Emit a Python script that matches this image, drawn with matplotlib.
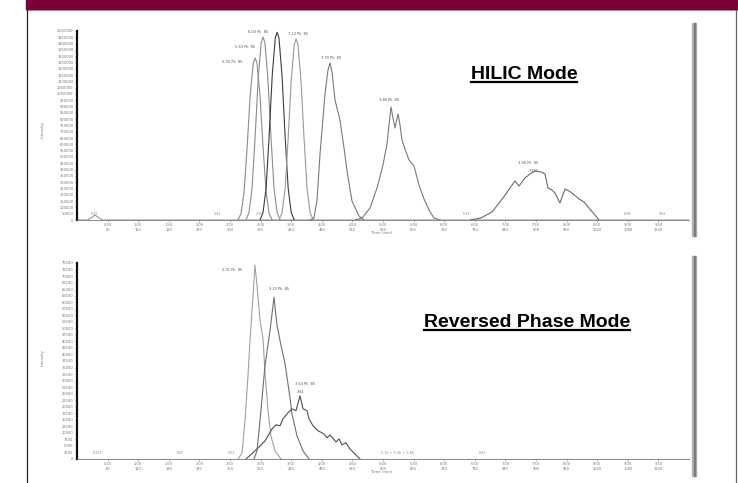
import matplotlib
matplotlib.use("Agg")
import matplotlib.pyplot as plt
from matplotlib.patches import Rectangle
from matplotlib.lines import Line2D

W, H = 738, 483

# ---- HILIC overlay (time in min, intensity in counts) ----
hilic_base_t = [0.0, 0.18, 0.25, 0.29, 0.34, 0.41, 10.0]
hilic_base_i = [0, 0, 23800, 39700, 23800, 0, 0]

hilic_a_t = [2.63, 2.68, 2.73, 2.78, 2.83, 2.88, 2.91, 2.94, 2.99, 3.04, 3.09, 3.14, 3.19]
hilic_a_i = [0, 51e3, 219e3, 579e3, 990e3, 1247e3, 1286e3, 1247e3, 990e3, 579e3, 219e3, 51e3, 0]

hilic_b_t = [2.76, 2.81, 2.86, 2.91, 2.96, 3.01, 3.04, 3.07, 3.12, 3.17, 3.22, 3.27, 3.32]
hilic_b_i = [0, 58e3, 247e3, 653e3, 1118e3, 1408e3, 1452e3, 1408e3, 1118e3, 653e3, 247e3, 58e3, 0]

hilic_c_t = [2.99, 3.04, 3.09, 3.14, 3.19, 3.24, 3.27, 3.30, 3.35, 3.40, 3.45, 3.50, 3.55]
hilic_c_i = [0, 60e3, 253e3, 670e3, 1147e3, 1445e3, 1490e3, 1445e3, 1147e3, 670e3, 253e3, 60e3, 0]

hilic_d_t = [3.30, 3.35, 3.40, 3.45, 3.50, 3.55, 3.58, 3.61, 3.66, 3.71, 3.76, 3.81, 3.86]
hilic_d_i = [0, 57e3, 244e3, 647e3, 1106e3, 1394e3, 1437e3, 1394e3, 1106e3, 647e3, 244e3, 57e3, 0]

hilic_e_t = [3.807, 3.873, 3.922, 3.971, 4.020, 4.052, 4.101, 4.134, 4.167, 4.216,
             4.297, 4.363, 4.412, 4.493, 4.608, 4.690]
hilic_e_i = [0, 15.9e3, 158.7e3, 523.8e3, 809.6e3, 1000.1e3, 1190.6e3, 1246.1e3, 1174.7e3, 952.4e3,
             793.7e3, 571.5e3, 388.9e3, 150.8e3, 31.7e3, 0]

hilic_f_t = [4.542, 4.657, 4.788, 4.902, 5.000, 5.065, 5.098, 5.131, 5.163, 5.196, 5.245,
             5.278, 5.310, 5.359, 5.425, 5.507, 5.588, 5.670, 5.752, 5.833, 5.931]
hilic_f_i = [0, 15.9e3, 95.2e3, 254.0e3, 436.5e3, 603.2e3, 754.0e3, 896.9e3, 809.6e3, 730.2e3, 841.3e3,
             754.0e3, 634.9e3, 563.5e3, 476.2e3, 428.6e3, 277.8e3, 166.7e3, 79.4e3, 15.9e3, 0]

hilic_g_t = [6.422, 6.601, 6.781, 6.961, 7.075, 7.157, 7.222, 7.320, 7.402, 7.484, 7.582, 7.647,
             7.696, 7.761, 7.810, 7.892, 7.974, 8.039, 8.088, 8.203, 8.284, 8.366, 8.448, 8.529]
hilic_g_i = [0, 15.9e3, 63.5e3, 174.6e3, 254.0e3, 309.5e3, 269.8e3, 333.4e3, 365.1e3, 388.9e3, 381.0e3, 365.1e3,
             254.0e3, 238.1e3, 214.3e3, 134.9e3, 246.0e3, 230.2e3, 214.3e3, 166.7e3, 142.9e3, 95.2e3, 47.6e3, 0]

hilic_traces = [(hilic_base_t, hilic_base_i), (hilic_a_t, hilic_a_i), (hilic_b_t, hilic_b_i),
                (hilic_c_t, hilic_c_i), (hilic_d_t, hilic_d_i), (hilic_e_t, hilic_e_i),
                (hilic_f_t, hilic_f_i), (hilic_g_t, hilic_g_i)]
hilic_colors = ['#9a9a9a', '#8c8c8c', '#8c8c8c', '#3c3c3c', '#9a9a9a', '#7a7a7a', '#7a7a7a', '#6a6a6a']

hilic_peak_text = ['5.05 Pk  85', '5.63 Pk  85', '6.03 Pk  85', '7.13 Pk  85',
                   '7.70 Pk  85', '3.86 Pk  85', '3.90 Pk  85']
hilic_peak_t = [2.908, 3.039, 3.268, 3.578, 4.134, 5.131, 7.484]
hilic_peak_i = [1286e3, 1452e3, 1490e3, 1437e3, 1246e3, 896.9e3, 388.9e3]

hilic_small_text = ['0.25', '2.42', '2.99', '6.21', '8.98', '9.55']
hilic_small_t = [0.29, 2.30, 2.99, 6.36, 8.99, 9.56]

# ---- Reversed phase overlay ----
rp_base_t = [0.0, 10.0]
rp_base_i = [0, 0]

rp_a_t = [2.631, 2.696, 2.745, 2.794, 2.827, 2.876, 2.908, 2.941, 2.990, 3.039, 3.072, 3.121, 3.170, 3.235, 3.333]
rp_a_i = [0, 2.3e3, 14.6e3, 31.9e3, 45.4e3, 62.7e3, 74.2e3, 66.5e3, 53.1e3, 46.1e3, 33.1e3, 18.5e3, 8.8e3, 3.1e3, 0]

rp_b_t = [2.892, 2.941, 2.990, 3.072, 3.154, 3.219, 3.268, 3.333, 3.399, 3.480, 3.513, 3.595, 3.693, 3.791]
rp_b_i = [0, 3.1e3, 14.6e3, 35.8e3, 49.2e3, 61.9e3, 51.2e3, 43.5e3, 36.5e3, 23.5e3, 17.3e3, 8.8e3, 3.1e3, 0]

rp_c_t = [2.761, 2.908, 3.072, 3.186, 3.252, 3.317, 3.366, 3.448, 3.513, 3.578, 3.644, 3.693, 3.758,
          3.791, 3.856, 3.938, 4.036, 4.085, 4.134, 4.232, 4.281, 4.330, 4.395, 4.461, 4.526, 4.624]
rp_c_i = [0, 3.1e3, 6.9e3, 11.5e3, 13.1e3, 12.7e3, 15.4e3, 17.7e3, 19.2e3, 18.5e3, 24.2e3, 19.2e3, 18.5e3,
          15.4e3, 12.7e3, 10.8e3, 9.6e3, 8.1e3, 9.2e3, 6.5e3, 7.7e3, 5.4e3, 6.2e3, 3.8e3, 2.3e3, 0]

rp_traces = [(rp_base_t, rp_base_i), (rp_a_t, rp_a_i), (rp_b_t, rp_b_i), (rp_c_t, rp_c_i)]
rp_colors = ['#8c8c8c', '#a0a0a0', '#707070', '#505050']

rp_peak_text = ['2.91 Pk  85', '3.22 Pk  85', '3.64 Pk  85']
rp_peak_t = [2.908, 3.219, 3.644]
rp_peak_i = [74.2e3, 61.9e3, 24.2e3]

rp_small_text = ['0.227', '1.68', '2.52', '5.22 + 5.36 + 5.48', '6.62']
rp_small_t = [0.33, 1.68, 2.52, 5.23, 6.62]

x_ticks = [0.5 * k for k in range(1, 20)]
x_tick_labels = ['%.2f\n%d' % (t, round(t * 120)) for t in x_ticks]


def px_box(x0, y0, x1, y1):
    return [x0 / W, 1 - y1 / H, (x1 - x0) / W, (y1 - y0) / H]


fig = plt.figure(figsize=(W / 100, H / 100), dpi=100)
fig.patch.set_facecolor('white')

# slide frame
fig.patches.append(Rectangle((26 / W, 1 - 9 / H), (W - 26) / W, 9 / H,
                             transform=fig.transFigure, color='#7a0039', zorder=5))
fig.lines.append(Line2D([26 / W, 1], [1 - 10 / H] * 2, transform=fig.transFigure,
                        color='#b8a8b0', lw=0.8))
fig.lines.append(Line2D([26.5 / W] * 2, [0, 1 - 9 / H], transform=fig.transFigure,
                        color='#222222', lw=0.9))
fig.lines.append(Line2D([735.5 / W] * 2, [0, 1 - 9 / H], transform=fig.transFigure,
                        color='#666666', lw=0.9))


def draw_panel(box, traces, colors, ymax, ystep, peak_text, peak_t, peak_i, offsets,
               small_text, small_t, ylab_y, bar):
    ax = fig.add_axes(px_box(*box))
    for (t, i), c in zip(traces, colors):
        ax.plot(t, i, color=c, lw=0.8)
    ax.set_xlim(0, 10)
    ax.set_ylim(0, ymax)
    ax.set_xticks(x_ticks)
    ax.set_xticklabels(x_tick_labels)
    yt = [ystep * k for k in range(int(round(ymax / ystep)) + 1)]
    ax.set_yticks(yt)
    ax.set_yticklabels(['%d' % v for v in yt])
    ax.tick_params(labelsize=2.6, labelcolor='#777777', color='#777777',
                   length=1.5, width=0.4, pad=1)
    for s in ['top', 'right']:
        ax.spines[s].set_visible(False)
    ax.spines['left'].set_linewidth(1.6)
    ax.spines['left'].set_color('#111111')
    ax.spines['bottom'].set_linewidth(0.6)
    ax.spines['bottom'].set_color('#777777')
    ax.patch.set_alpha(0)
    # offsets are given in pixels, right / down positive
    for txt, t, i, (dx, dy) in zip(peak_text, peak_t, peak_i, offsets):
        ax.annotate(txt, (t, i), xytext=(dx * 0.72, -dy * 0.72), textcoords='offset points',
                    fontsize=2.6, color='#555555', ha='center', va='center')
    for txt, t in zip(small_text, small_t):
        ax.annotate(txt, (t, 0), xytext=(0, 6 * 0.72), textcoords='offset points',
                    fontsize=2.4, color='#888888', ha='center', va='center')
    fig.text(43 / W, 1 - ylab_y / H, 'Intensity', rotation=90, fontsize=2.8,
             color='#777777', ha='center', va='center')
    fig.text(382 / W, 1 - (box[3] + 13) / H, 'Time (min)', fontsize=2.8,
             color='#777777', ha='center', va='center')
    # gray scroll bar on the right
    fig.patches.append(Rectangle((692 / W, 1 - bar[1] / H), 4 / W, (bar[1] - bar[0]) / H,
                                 transform=fig.transFigure, color='#b4b4b4', zorder=3))
    fig.patches.append(Rectangle((693.5 / W, 1 - bar[1] / H), 1.2 / W, (bar[1] - bar[0]) / H,
                                 transform=fig.transFigure, color='#7c7c7c', zorder=3))
    return ax


hilic_offsets = [(-23, 4), (-18, 10), (-19, 0), (2, -5), (1, -5), (-2, -7), (-7, -8)]
rp_offsets = [(-23, 5), (5, -8), (5, -12)]

ax1 = draw_panel((77, 31, 689, 220), hilic_traces, hilic_colors, 1.5e6, 5e4,
                 hilic_peak_text, hilic_peak_t, hilic_peak_i, hilic_offsets,
                 hilic_small_text, hilic_small_t, 130, (23, 236))
ax1.annotate('7.490', (7.484, 388.9e3), xytext=(-1, 0), textcoords='offset points',
             fontsize=2.4, color='#555555', ha='center', va='center')
ax2 = draw_panel((77, 263, 689, 459), rp_traces, rp_colors, 7.5e4, 2.5e3,
                 rp_peak_text, rp_peak_t, rp_peak_i, rp_offsets,
                 rp_small_text, rp_small_t, 358, (256, 476))
ax2.annotate('3.64', (3.644, 24.2e3), xytext=(0, 4 * 0.72), textcoords='offset points',
             fontsize=2.4, color='#555555', ha='center', va='center')

# mode titles with underline
titles = [('HILIC Mode', 524, 79), ('Reversed Phase Mode', 527, 327)]
txts = []
for s, cx, by in titles:
    txts.append(fig.text(cx / W, 1 - by / H, s, fontsize=14, fontweight='bold',
                         family='Liberation Sans', ha='center', va='baseline'))
fig.canvas.draw()
r = fig.canvas.get_renderer()
for t, (s, cx, by) in zip(txts, titles):
    bb = t.get_window_extent(r)
    fig.lines.append(Line2D([bb.x0 / W, bb.x1 / W], [1 - (by + 2.5) / H] * 2,
                            transform=fig.transFigure, color='black', lw=1.6))

fig.savefig('out.png', dpi=100)
